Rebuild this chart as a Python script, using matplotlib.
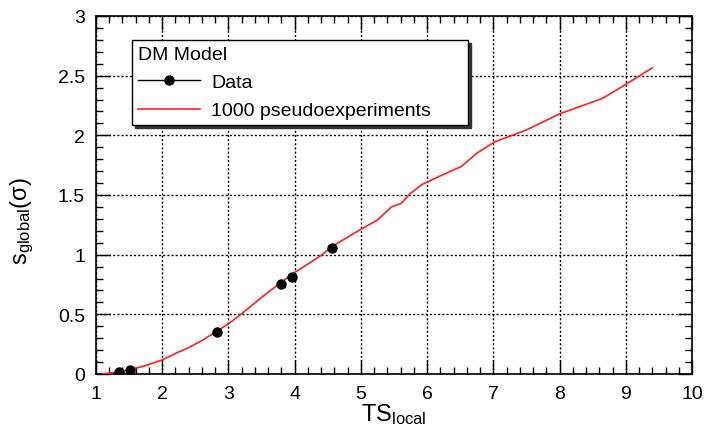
import matplotlib
matplotlib.use("Agg")
import matplotlib.pyplot as plt
from matplotlib.lines import Line2D
from matplotlib.ticker import MultipleLocator, FormatStrFormatter

plt.rcParams['font.family'] = ['Liberation Sans', 'DejaVu Sans']
plt.rcParams['mathtext.fontset'] = 'custom'
plt.rcParams['mathtext.rm'] = 'Liberation Sans'
plt.rcParams['mathtext.it'] = 'Liberation Sans'

# pseudoexperiment curve
ts_curve = [1.1, 1.3, 1.5, 1.75, 2.0, 2.23, 2.38, 2.6, 2.8, 3.0, 3.2, 3.54, 3.8,
            4.0, 4.39, 4.6, 4.99, 5.25, 5.46, 5.61, 5.74, 5.93, 6.2, 6.52, 6.75,
            7.02, 7.5, 8.0, 8.65, 8.95, 9.4]
sig_curve = [0.0, 0.015, 0.035, 0.07, 0.118, 0.18, 0.216, 0.28, 0.35, 0.42, 0.505,
             0.66, 0.77, 0.85, 0.99, 1.08, 1.21, 1.29, 1.40, 1.43, 1.51, 1.59, 1.66,
             1.74, 1.85, 1.945, 2.045, 2.18, 2.31, 2.41, 2.565]

# data points
ts_data = [1.35, 1.52, 2.83, 3.79, 3.96, 4.56]
sig_data = [0.02, 0.036, 0.35, 0.756, 0.817, 1.053]

fig = plt.figure(figsize=(7.05, 4.35), dpi=100)
ax = fig.add_axes([96/705, 60/435, 596/705, 358/435])

ax.plot(ts_curve, sig_curve, color='#ff2020', lw=1.2, zorder=3)
ax.plot(ts_data, sig_data, 'o', color='black', ms=6.5, zorder=4)

ax.set_xlim(1, 10)
ax.set_ylim(0, 3)
ax.xaxis.set_major_locator(MultipleLocator(1))
ax.xaxis.set_minor_locator(MultipleLocator(0.2))
ax.yaxis.set_major_locator(MultipleLocator(0.5))
ax.yaxis.set_minor_locator(MultipleLocator(0.1))
ax.yaxis.set_major_formatter(FormatStrFormatter('%g'))
ax.tick_params(which='both', direction='in', top=True, right=True, labelsize=14, width=1)
ax.tick_params(which='major', length=10, pad=8)
ax.tick_params(which='minor', length=5)
for s in ax.spines.values():
    s.set_linewidth(1.2)
ax.grid(True, which='major', color='black', linestyle=(0, (1.5, 1.5)), lw=1)

ax.set_xlabel(r'TS$_{\mathregular{local}}$', fontsize=17)
ax.xaxis.set_label_coords(0.5, -0.075)
ax.set_ylabel(r'$\mathregular{s_{global}(\sigma)}$', fontsize=17)
ax.yaxis.set_label_coords(-0.1, 0.43)

handles = [Line2D([], [], color='black', marker='o', ms=6.5, lw=1),
           Line2D([], [], color='#ff2020', lw=1.2)]
leg = ax.legend(handles, ['Data', '1000 pseudoexperiments'], title='DM Model',
                loc='upper left', bbox_to_anchor=(0.06, 0.698, 0.564, 0.235),
                mode='expand', alignment='left', fontsize=14, title_fontsize=14,
                handlelength=3.2, handletextpad=0.6, labelspacing=0.55,
                borderpad=0.3, borderaxespad=0, fancybox=False, framealpha=1,
                edgecolor='black', shadow={'color': '#333333', 'alpha': 1})
leg.get_frame().set_linewidth(1)

fig.savefig('out.png', dpi=100)
